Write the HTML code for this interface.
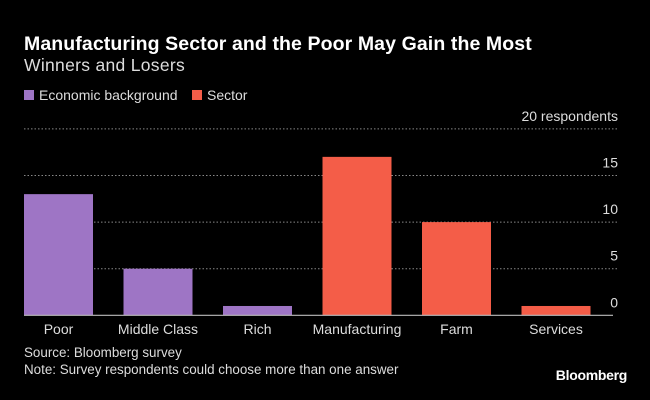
<!DOCTYPE html>
<html><head><meta charset="utf-8"><style>
body{margin:0;background:#000;width:650px;height:400px;overflow:hidden;font-family:"Liberation Sans",sans-serif;color:#fff}
.t{position:absolute;white-space:nowrap}
</style></head><body>
<div class="t" style="left:24px;top:33px;font-size:19.5px;font-weight:bold;letter-spacing:0.1px">Manufacturing Sector and the Poor May Gain the Most</div>
<div class="t" style="left:24px;top:55px;font-size:17.5px;color:#ddd;letter-spacing:0.3px">Winners and Losers</div>
<div class="t" style="left:24px;top:87px;font-size:14px;color:#ddd"><span style="display:inline-block;width:10px;height:10px;background:#9e75c5;margin-right:5px"></span>Economic background</div>
<div class="t" style="left:192px;top:87px;font-size:14px;color:#ddd"><span style="display:inline-block;width:10px;height:10px;background:#f45d48;margin-right:5px"></span>Sector</div>
<svg id="c" width="650" height="400" style="position:absolute;left:0;top:0"></svg>
<div class="t" style="left:24px;top:345px;font-size:13.4px;color:#ddd">Source: Bloomberg survey</div>
<div class="t" style="left:24px;top:362px;font-size:13.4px;color:#ddd">Note: Survey respondents could choose more than one answer</div>
<div class="t" style="right:23px;top:367px;font-size:14px;font-weight:bold;letter-spacing:-0.3px">Bloomberg</div>
<script>
const categories=["Poor","Middle Class","Rich","Manufacturing","Farm","Services"];
const values=[13,5,1,17,10,1];
const groups=["econ","econ","econ","sector","sector","sector"];
const ticks=[0,5,10,15,20];
const tickLabels=["0","5","10","15","20 respondents"];
const colors={econ:"#9e75c5",sector:"#f45d48"};
const ns="http://www.w3.org/2000/svg",svg=document.getElementById("c");
const y0=315.3,unit=9.32,x0=24,step=99.5,bw=69,gridR=617;
const y=v=>y0-v*unit, x=i=>x0+i*step;
function mk(t,a){const e=document.createElementNS(ns,t);for(const k in a)e.setAttribute(k,a[k]);svg.appendChild(e);return e;}
ticks.forEach((t,i)=>{
 if(t>0){const g=mk("line",{x1:x0,x2:gridR,y1:y(t),y2:y(t),stroke:"#888","stroke-width":1,"stroke-dasharray":"1.5,2"});
 
 }
 const l=mk("text",{x:618,y:y(t)-8,"text-anchor":"end",fill:"#ddd","font-size":14,"font-family":"Liberation Sans, sans-serif"});
 l.textContent=tickLabels[i];
 
 
});
categories.forEach((c,i)=>{
 const r=mk("rect",{x:x(i),y:y(values[i]),width:bw,height:values[i]*unit,fill:colors[groups[i]]});
 
 
 const l=mk("text",{x:x(i)+bw/2,y:334,"text-anchor":"middle",fill:"#ddd","font-size":14,"font-family":"Liberation Sans, sans-serif"});
 l.textContent=c;
 
 
});
const b=mk("line",{x1:x0,x2:613,y1:y0,y2:y0,stroke:"#bbb","stroke-width":1.2});


</script>
</body></html>
